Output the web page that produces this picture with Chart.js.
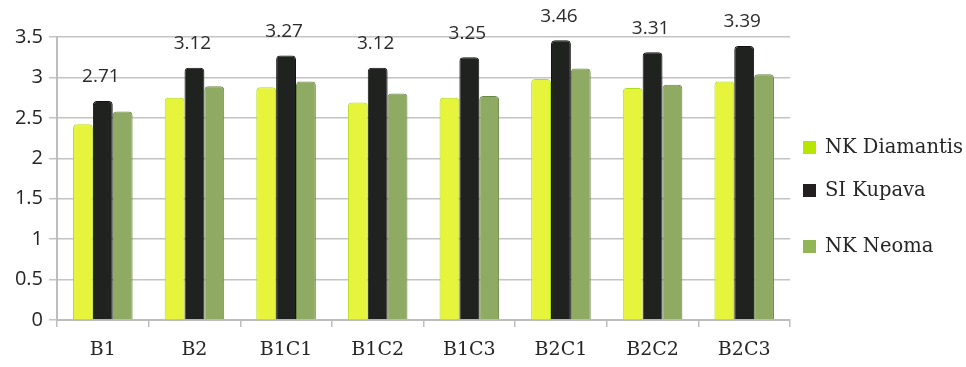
<!DOCTYPE html>
<html>
<head>
<meta charset="utf-8">
<script src="https://cdn.jsdelivr.net/npm/chart.js@4"></script>
<style>
  html, body { margin: 0; padding: 0; background: #fff; }
  #wrap { width: 966px; height: 367px; }
</style>
</head>
<body>
<div id="wrap"><canvas id="barChart" width="966" height="367"></canvas></div>
<script>
const categories = ['B1', 'B2', 'B1C1', 'B1C2', 'B1C3', 'B2C1', 'B2C2', 'B2C3'];
const diamantis = [2.42, 2.75, 2.88, 2.69, 2.75, 2.98, 2.87, 2.95];
const kupava = [2.71, 3.12, 3.27, 3.12, 3.25, 3.46, 3.31, 3.39];
const neoma = [2.58, 2.89, 2.95, 2.80, 2.77, 3.11, 2.91, 3.04];
const seriesNames = ['NK Diamantis', 'SI Kupava', 'NK Neoma'];

document.addEventListener('DOMContentLoaded', () => {
    const ctx = document.getElementById('barChart').getContext('2d');

    // value labels above the SI Kupava bars
    const valueLabels = {
        id: 'valueLabels',
        afterDatasetsDraw(chart) {
            const c = chart.ctx;
            const meta = chart.getDatasetMeta(1);
            c.save();
            c.font = '19px "Open Sans"';
            c.fillStyle = '#2b2b2b';
            c.textAlign = 'center';
            c.textBaseline = 'middle';
            meta.data.forEach((bar, i) => {
                c.fillText(kupava[i].toFixed(2), bar.x - 2, bar.y - 24);
            });
            c.restore();
        }
    };

    // legend on the right, drawn by hand to get the spacing of the original
    const sideLegend = {
        id: 'sideLegend',
        afterDraw(chart) {
            const c = chart.ctx;
            const rows = [147, 190, 246];
            c.save();
            c.font = '19.5px "DejaVu Serif"';
            c.textBaseline = 'middle';
            c.textAlign = 'left';
            chart.data.datasets.forEach((ds, i) => {
                c.fillStyle = ds.legendColor;
                c.fillRect(803, rows[i] - 6, 13, 13);
                c.fillStyle = '#262626';
                c.fillText(ds.label, 825, rows[i] + 1);
            });
            c.restore();
        }
    };

    new Chart(ctx, {
        type: 'bar',
        data: {
            labels: categories,
            datasets: [{
                label: seriesNames[0],
                data: diamantis,
                backgroundColor: '#e6f53c',
                borderColor: '#b2dc1a',
                legendColor: '#b8e500',
                borderWidth: 1,
                borderRadius: { topLeft: 4, topRight: 4 },
                borderSkipped: 'bottom'
            }, {
                label: seriesNames[1],
                data: kupava,
                backgroundColor: '#1f221f',
                borderColor: '#111311',
                legendColor: '#231f20',
                borderWidth: 1,
                borderRadius: { topLeft: 4, topRight: 4 },
                borderSkipped: 'bottom'
            }, {
                label: seriesNames[2],
                data: neoma,
                backgroundColor: '#8faa62',
                borderColor: '#6a8645',
                legendColor: '#92b556',
                borderWidth: 1,
                borderRadius: { topLeft: 4, topRight: 4 },
                borderSkipped: 'bottom'
            }]
        },
        options: {
            responsive: false,
            animation: false,
            layout: {
                padding: { top: 37, right: 176, bottom: 0, left: 0 }
            },
            datasets: {
                bar: {
                    categoryPercentage: 0.65,
                    barPercentage: 1.0
                }
            },
            scales: {
                x: {
                    grid: {
                        offset: true,
                        drawOnChartArea: false,
                        color: '#bdbdbd',
                        lineWidth: 1.5,
                        tickLength: 7
                    },
                    border: { color: '#bdbdbd', width: 2 },
                    ticks: {
                        color: '#262626',
                        font: { family: 'DejaVu Serif', size: 19 },
                        padding: 12
                    },
                    afterFit(scale) { scale.height = 47; }
                },
                y: {
                    min: 0,
                    max: 3.5,
                    ticks: {
                        stepSize: 0.5,
                        color: '#262626',
                        font: { family: 'Open Sans', size: 20 },
                        padding: 6,
                        callback: (value) => String(value)
                    },
                    grid: {
                        color: '#c4c4c4',
                        lineWidth: 1.5,
                        tickLength: 8
                    },
                    border: { color: '#bdbdbd', width: 2 },
                    afterFit(scale) { scale.width = 57; }
                }
            },
            plugins: {
                legend: { display: false },
                tooltip: { enabled: false }
            }
        },
        plugins: [valueLabels, sideLegend]
    });
});
</script>
</body>
</html>
